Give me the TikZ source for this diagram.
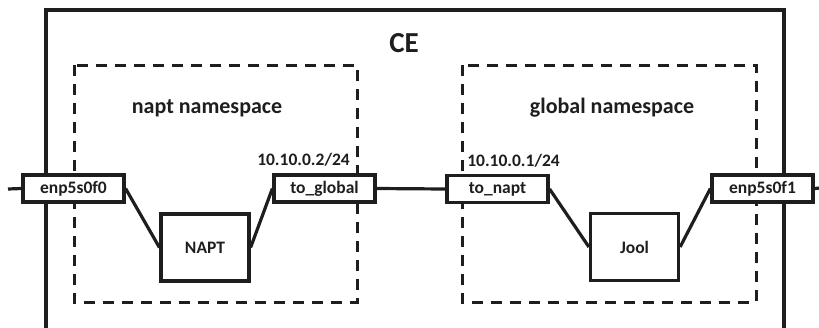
\documentclass[tikz,border=0pt]{standalone}
\usepackage{fontspec}
\setmainfont{Carlito}
\definecolor{ink}{HTML}{1E1E1E}
\begin{document}
\begin{tikzpicture}[x=1pt,y=-1pt,
  line/.style={draw=ink,line width=3.2pt},
  nsbox/.style={draw=ink,line width=3pt,dash pattern=on 11pt off 8pt},
  ifbox/.style={draw=ink,line width=3.2pt,fill=white,minimum width=101pt,minimum height=27pt,inner sep=0pt,font=\fontsize{17.5}{20}\selectfont\bfseries,text=ink},
  procbox/.style={draw=ink,line width=3.2pt,fill=white,minimum width=88pt,minimum height=67pt,inner sep=0pt,font=\fontsize{17.5}{20}\selectfont\bfseries,text=ink},
  iplabel/.style={inner sep=0pt,font=\fontsize{17.5}{20}\selectfont\bfseries,text=ink},
  title/.style={inner sep=0pt,font=\fontsize{22}{26}\selectfont\bfseries,text=ink},
  bigtitle/.style={inner sep=0pt,font=\fontsize{29}{34}\selectfont\bfseries,text=ink}]
\useasboundingbox (0,0) rectangle (819,327);
% CE frame
\coordinate (ceBL) at (46,330);
\coordinate (ceTL) at (46,10);
\coordinate (ceTR) at (784,10);
\coordinate (ceBR) at (784,330);
\draw[line] (ceBL) -- (ceTL) -- (ceTR) -- (ceBR);
\node[bigtitle] (ce) at (404,43) {CE};
% namespaces
\draw[nsbox] (74,65) rectangle (357,302);
\draw[nsbox] (462,65) rectangle (756,302);
\node[title] (nsnapt) at (207,108) {napt namespace};
\node[title] (nsglobal) at (612,108) {global namespace};
% stubs
\coordinate (lstub) at (8,189);
\coordinate (rstub) at (820,188);
% interfaces
\node[ifbox] (e0) at (73.5,188.5) {enp5s0f0};
\node[ifbox] (tg) at (324.5,188.5) {to\_global};
\node[ifbox] (tn) at (497.5,189) {to\_napt};
\node[ifbox] (e1) at (762.5,188.5) {enp5s0f1};
\node[procbox] (napt) at (205,247.5) {NAPT};
\node[procbox] (jool) at (634.5,247) {Jool};
\node[iplabel] (ip2) at (303.5,160) {10.10.0.2/24};
\node[iplabel] (ip1) at (513.5,161) {10.10.0.1/24};
% connectors
\draw[line] (lstub) -- (e0.west);
\draw[line] (e1.east) -- (rstub);
\draw[line] (e0.east) -- (napt.west);
\draw[line] (napt.east) -- (tg.west);
\draw[line] (tg.east) -- (tn.west);
\draw[line] (tn.east) -- (jool.west);
\draw[line] (jool.east) -- (e1.west);
\end{tikzpicture}
\end{document}
